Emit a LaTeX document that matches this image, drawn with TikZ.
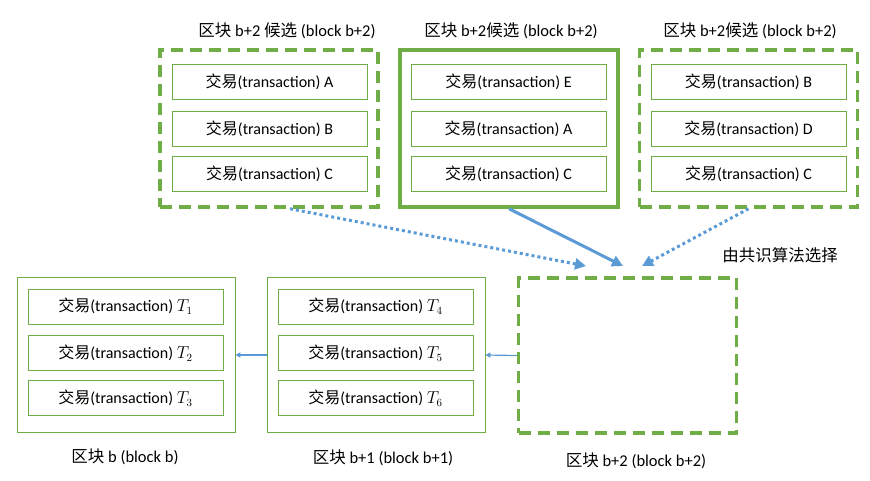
\documentclass[tikz,border=0pt]{standalone}
\usepackage{fontspec}
\setmainfont{Carlito}
\newfontfamily\cjk{Noto Sans CJK SC}
\usetikzlibrary{arrows.meta,positioning}
\definecolor{bgreen}{HTML}{70AD47}
\definecolor{bblue}{HTML}{5B9BD5}
\newcommand{\zh}[1]{{\cjk #1}}
\newcommand{\tx}[1]{\zh{交易}(transaction) #1}
\tikzset{
  txbox/.style={draw=bgreen, line width=0.7pt, minimum width=195pt, minimum height=35pt, font=\fontsize{16}{18}\selectfont},
  blockbox/.style={draw=bgreen, line width=0.8pt, minimum width=218pt, minimum height=155pt},
  candbox/.style={draw=bgreen, line width=3.5pt, dash pattern=on 12pt off 7pt, minimum width=218pt, minimum height=157pt},
  chosenbox/.style={draw=bgreen, line width=3.5pt, minimum width=218pt, minimum height=157pt},
  title/.style={font=\fontsize{16.5}{18}\selectfont},
  pick/.style={draw=bblue, line width=3pt, -{Triangle[length=11pt,width=11pt]}},
  link/.style={draw=bblue, line width=1.2pt, -{Triangle[length=5pt,width=5pt]}}
}
\begin{document}
\begin{tikzpicture}[x=1pt,y=-1pt]
\useasboundingbox (0,0) rectangle (870,481);
% candidates
\node[candbox] (candA) at (269,128.5) {};
\node[chosenbox] (candE) at (509,128.5) {};
\node[candbox] (candB) at (748.5,128.5) {};
\node[title] at (287,31) {\zh{区块} b+2 \zh{候选} (block b+2)};
\node[title] at (511,31) {\zh{区块} b+2\zh{候选} (block b+2)};
\node[title] at (750,31) {\zh{区块} b+2\zh{候选} (block b+2)};
\node[txbox] (a1) at (269.5,82) {\tx{A}};
\node[txbox] (a2) at (269.5,128.5) {\tx{B}};
\node[txbox] (a3) at (269.5,174) {\tx{C}};
\node[txbox] (e1) at (508.5,82) {\tx{E}};
\node[txbox] (e2) at (508.5,128.5) {\tx{A}};
\node[txbox] (e3) at (508.5,174) {\tx{C}};
\node[txbox] (d1) at (748.5,82) {\tx{B}};
\node[txbox] (d2) at (748.5,128.5) {\tx{D}};
\node[txbox] (d3) at (748.5,174) {\tx{C}};
% chain
\node[blockbox] (b0) at (126,355) {};
\node[blockbox] (b1) at (376,355) {};
\node[candbox, minimum height=155pt] (b2) at (627.5,355.5) {};
\node[txbox] (t1) at (125.5,306.5) {\tx{$T_1$}};
\node[txbox] (t2) at (125.5,353) {\tx{$T_2$}};
\node[txbox] (t3) at (125.5,398) {\tx{$T_3$}};
\node[txbox] (t4) at (375.5,306.5) {\tx{$T_4$}};
\node[txbox] (t5) at (375.5,353) {\tx{$T_5$}};
\node[txbox] (t6) at (375.5,398) {\tx{$T_6$}};
\node[title] at (125,457) {\zh{区块} b (block b)};
\node[title] at (383,458) {\zh{区块} b+1 (block b+1)};
\node[title] at (636,461) {\zh{区块} b+2 (block b+2)};
\node[title] at (780,255) {\zh{由共识算法选择}};
% arrows
\coordinate (selA) at (586,266);
\coordinate (selE) at (623,266);
\coordinate (selB) at (642,266);
\draw[pick, dash pattern=on 3pt off 3pt] ([xshift=21pt]candA.south) -- (selA);
\draw[pick] (candE.south) -- (selE);
\draw[pick, dash pattern=on 3pt off 3pt] (candB.south) -- (selB);
\draw[link] (b1.west) -- (b0.east);
\draw[link] (b2.west) -- (b1.east);
\end{tikzpicture}
\end{document}
